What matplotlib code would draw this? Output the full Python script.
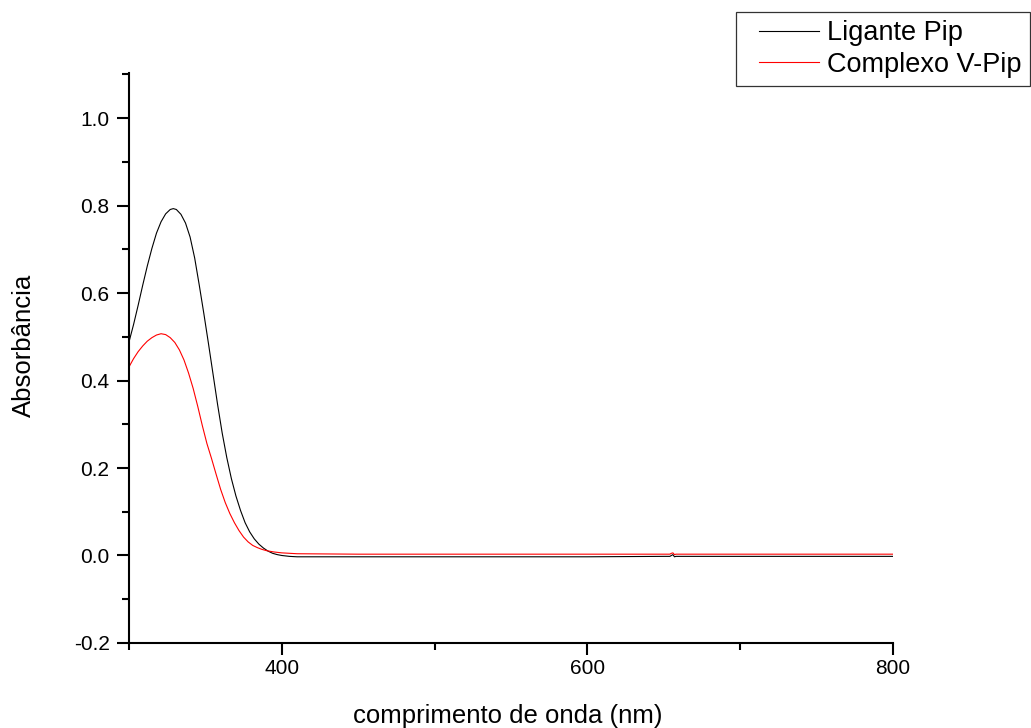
import matplotlib
matplotlib.use("Agg")
import matplotlib.pyplot as plt
from matplotlib.ticker import MultipleLocator
from matplotlib.legend_handler import HandlerLine2D

plt.rcParams['font.family'] = ['Liberation Sans', 'DejaVu Sans']

# UV-Vis spectra: wavelength (nm) and absorbance
wl_ligante = [300, 303, 306, 309, 312, 315, 318, 321, 324, 327, 329, 331, 334,
              337, 340, 343, 346, 349, 352, 355, 358, 361, 364, 367, 370, 373,
              376, 379, 382, 385, 388, 391, 394, 397, 400, 405, 410, 430, 460,
              500, 550, 600, 650, 654, 655, 656, 657, 658, 700, 750, 800]
abs_ligante = [0.488, 0.528, 0.572, 0.618, 0.662, 0.702, 0.737, 0.763, 0.781,
               0.791, 0.793, 0.791, 0.780, 0.760, 0.728, 0.680, 0.618, 0.553,
               0.485, 0.415, 0.345, 0.280, 0.224, 0.176, 0.136, 0.103, 0.075,
               0.054, 0.038, 0.026, 0.017, 0.010, 0.005, 0.002, 0.000, -0.002,
               -0.003, -0.003, -0.003, -0.003, -0.003, -0.003, -0.002, -0.002,
               0.000, 0.002, -0.003, -0.002, -0.002, -0.002, -0.002]

wl_complexo = [300, 303, 306, 309, 312, 315, 318, 321, 324, 327, 330, 333, 336,
               339, 342, 345, 348, 351, 354, 357, 360, 363, 366, 369, 372, 375,
               378, 381, 384, 387, 390, 395, 400, 410, 450, 500, 550, 600, 650,
               654, 655, 656, 657, 658, 700, 750, 800]
abs_complexo = [0.431, 0.450, 0.466, 0.479, 0.490, 0.498, 0.504, 0.507, 0.505,
                0.498, 0.487, 0.470, 0.447, 0.417, 0.382, 0.341, 0.297, 0.256,
                0.222, 0.186, 0.151, 0.121, 0.096, 0.075, 0.057, 0.042, 0.031,
                0.023, 0.018, 0.014, 0.011, 0.008, 0.006, 0.004, 0.003, 0.003,
                0.003, 0.003, 0.003, 0.003, 0.005, 0.006, 0.002, 0.003, 0.003,
                0.003, 0.003]

series_labels = ["Ligante Pip", "Complexo V-Pip"]


class InsetLineHandler(HandlerLine2D):
    """Legend line that starts part-way into the handle box."""

    def __init__(self, start=0.2, **kw):
        super().__init__(**kw)
        self.start = start

    def get_xdata(self, legend, xdescent, ydescent, width, height, fontsize):
        xdata, xdata_marker = super().get_xdata(legend, xdescent, ydescent,
                                                width, height, fontsize)
        x0 = -xdescent + self.start * width
        return [x0, -xdescent + width], xdata_marker


fig = plt.figure(figsize=(10.31, 7.28), dpi=100)
ax = fig.add_axes([0.1251, 0.1168, 0.7410, 0.7829])

l1, = ax.plot(wl_ligante, abs_ligante, color="black", lw=0.8,
              label=series_labels[0])
l2, = ax.plot(wl_complexo, abs_complexo, color="#ff0000", lw=0.8,
              label=series_labels[1])

ax.set_xlim(300, 800)
ax.set_ylim(-0.2, 1.103)

ax.xaxis.set_major_locator(MultipleLocator(200))
ax.xaxis.set_minor_locator(MultipleLocator(100))
ax.yaxis.set_major_locator(MultipleLocator(0.2))
ax.yaxis.set_minor_locator(MultipleLocator(0.1))
ax.yaxis.set_major_formatter(plt.FuncFormatter(lambda v, p: f"{v:.1f}"))

for side in ("top", "right"):
    ax.spines[side].set_visible(False)
for side in ("left", "bottom"):
    ax.spines[side].set_linewidth(1.5)

ax.tick_params(which="major", direction="out", length=8.5, width=1.5,
               labelsize=15)
ax.tick_params(axis="x", which="major", pad=3)
ax.tick_params(axis="y", which="major", pad=5.5)
ax.tick_params(which="minor", direction="out", length=5, width=1.5)

ax.set_xlabel("comprimento de onda (nm)", fontsize=18.5, va="center")
ax.xaxis.set_label_coords(0.4954, -0.128)
ax.set_ylabel("Absorbância", fontsize=18.5, va="center")
ax.yaxis.set_label_coords(-0.1374, 0.5228)

leg = fig.legend(loc="upper right", bbox_to_anchor=(0.999, 0.984),
                 bbox_transform=fig.transFigure, fontsize=19.5,
                 frameon=True, fancybox=False, edgecolor="black",
                 handlelength=2.75, handletextpad=0.3, borderpad=0.32,
                 labelspacing=0.2, borderaxespad=0,
                 handler_map={l1: InsetLineHandler(), l2: InsetLineHandler()})
leg.get_frame().set_linewidth(0.9)

fig.savefig("out.png", dpi=100)
